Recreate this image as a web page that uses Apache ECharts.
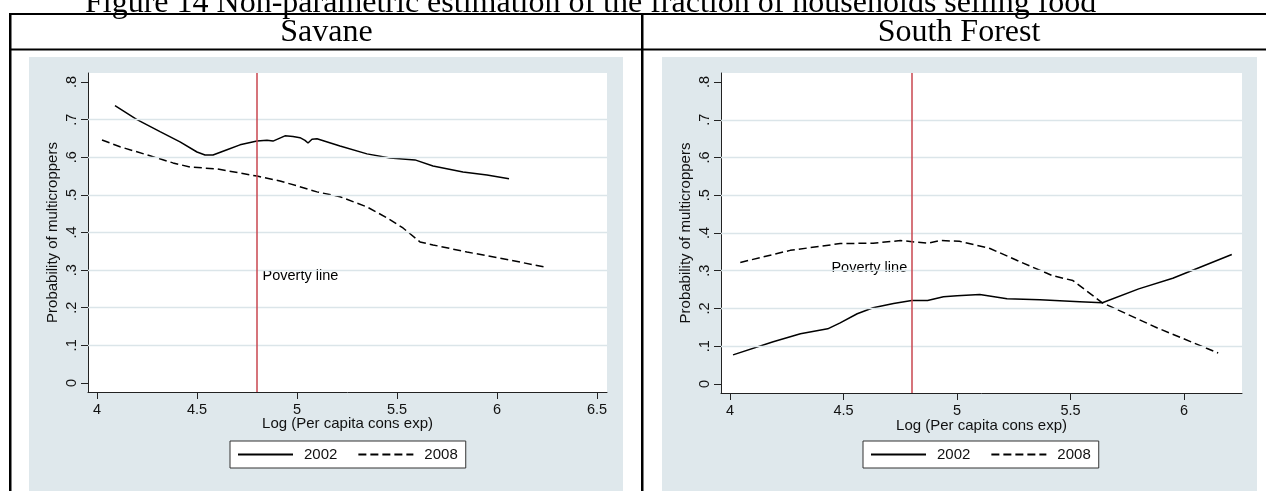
<!DOCTYPE html>
<html>
<head>
<meta charset="utf-8">
<script src="https://cdn.jsdelivr.net/npm/echarts@6/dist/echarts.min.js"></script>
<style>
html,body{margin:0;padding:0;background:#fff;}
#c{width:1266px;height:491px;}
</style>
</head>
<body>
<div id="c"></div>
<script>
// ---- data ----
const titleText = 'Figure 14 Non-parametric estimation of the fraction of households selling food';
const panelNames = ['Savane', 'South Forest'];
const seriesNames = ['2002', '2008'];
const xAxisTitle = 'Log (Per capita cons exp)';
const yAxisTitle = 'Probability of multicroppers';
const povertyLine = 4.8;
const povertyLabel = 'Poverty line';
const povertyLabelY = [0.285, 0.306];

const yTicks = [0, 0.1, 0.2, 0.3, 0.4, 0.5, 0.6, 0.7, 0.8];
const xTicksSavane = [4, 4.5, 5, 5.5, 6, 6.5];
const xTicksForest = [4, 4.5, 5, 5.5, 6];

const savX2002 = [4.09, 4.2, 4.315, 4.415, 4.5, 4.54, 4.58, 4.65, 4.715, 4.8, 4.85, 4.88, 4.94, 4.98, 5.015, 5.04, 5.055, 5.075, 5.1, 5.215, 5.35, 5.465, 5.59, 5.68, 5.83, 5.95, 6.06];
const savY2002 = [0.737, 0.700, 0.668, 0.641, 0.614, 0.606, 0.606, 0.620, 0.633, 0.643, 0.645, 0.643, 0.657, 0.655, 0.652, 0.645, 0.638, 0.648, 0.649, 0.630, 0.609, 0.598, 0.593, 0.577, 0.561, 0.553, 0.543];
const savX2008 = [4.025, 4.115, 4.265, 4.38, 4.465, 4.6, 4.715, 4.8, 4.915, 5.0, 5.1, 5.215, 5.35, 5.45, 5.53, 5.615, 5.68, 5.85, 6.015, 6.24];
const savY2008 = [0.646, 0.628, 0.604, 0.585, 0.574, 0.569, 0.558, 0.550, 0.537, 0.524, 0.508, 0.495, 0.468, 0.439, 0.412, 0.375, 0.367, 0.348, 0.332, 0.308];

const forX2002 = [4.013, 4.19, 4.31, 4.43, 4.485, 4.56, 4.63, 4.72, 4.8, 4.87, 4.94, 5.0, 5.1, 5.22, 5.365, 5.54, 5.64, 5.8, 5.95, 6.21];
const forY2002 = [0.077, 0.112, 0.133, 0.146, 0.162, 0.186, 0.202, 0.213, 0.221, 0.221, 0.231, 0.234, 0.237, 0.226, 0.223, 0.218, 0.215, 0.252, 0.280, 0.343];
const forX2008 = [4.045, 4.265, 4.485, 4.63, 4.75, 4.87, 4.925, 5.01, 5.145, 5.265, 5.42, 5.51, 5.64, 5.88, 6.15];
const forY2008 = [0.322, 0.354, 0.372, 0.373, 0.380, 0.373, 0.380, 0.378, 0.359, 0.327, 0.287, 0.274, 0.215, 0.149, 0.082];

// ---- styles ----
const SANS = '"Liberation Sans", Arial, sans-serif';
const SERIF = '"Liberation Serif", "Times New Roman", serif';
const BG = '#dfe8ec';
const GRID = '#dbe5e9';
const RED = '#c8464f';
const INK = '#111';

const zip = (xs, ys) => xs.map((x, i) => [x, ys[i]]);
const gridVals = yTicks.slice(1, -1);

function xAxisFor(idx, ticks, min, max, gap) {
  return {
    type: 'value', gridIndex: idx, min: min, max: max,
    name: xAxisTitle, nameLocation: 'middle', nameGap: gap, nameMoveOverlap: false,
    nameTextStyle: {fontFamily: SANS, fontSize: 15, color: INK, verticalAlign: 'top'},
    axisLine: {show: true, onZero: false, lineStyle: {color: '#222', width: 1}},
    axisTick: {show: true, length: 7, customValues: ticks, lineStyle: {color: '#222'}},
    axisLabel: {show: true, customValues: ticks, margin: 10, fontFamily: SANS, fontSize: 14.5, color: INK,
      formatter: v => String(v)},
    splitLine: {show: false}
  };
}
function yAxisFor(idx) {
  return {
    type: 'value', gridIndex: idx, min: -0.024, max: 0.824,
    name: yAxisTitle, nameLocation: 'middle', nameGap: 28, nameRotate: 90,
    nameTextStyle: {fontFamily: SANS, fontSize: 15, color: INK},
    axisLine: {show: true, onZero: false, lineStyle: {color: '#222', width: 1}},
    axisTick: {show: true, length: 7, customValues: yTicks, lineStyle: {color: '#222'}},
    axisLabel: {show: true, customValues: yTicks, rotate: 90, margin: 9, fontFamily: SANS, fontSize: 14.5, color: INK,
      formatter: v => (Math.abs(v) < 1e-9 ? '0' : '.' + Math.round(v * 10))},
    splitLine: {show: false}
  };
}
function helperSeries(idx) {
  return {
    type: 'line', xAxisIndex: idx, yAxisIndex: idx, data: [], z: 1, silent: true,
    markLine: {
      silent: true, symbol: 'none', animation: false,
      label: {show: false},
      data: gridVals.map(v => ({yAxis: v, lineStyle: {color: GRID, width: 1.4, type: 'solid'}}))
        .concat([{xAxis: povertyLine, lineStyle: {color: RED, width: 1.5, type: 'solid'}}])
    }
  };
}
function curve(idx, name, pts, dashed) {
  return {
    type: 'line', name: name, xAxisIndex: idx, yAxisIndex: idx, data: pts, z: 3,
    symbol: 'none', smooth: false, silent: true,
    lineStyle: {color: '#000', width: 1.5, type: dashed ? [8, 4] : 'solid'},
    itemStyle: {color: '#000'}
  };
}
function povLabel(idx, y, side) {
  return {
    type: 'scatter', xAxisIndex: idx, yAxisIndex: idx, z: 4, silent: true,
    data: [[povertyLine, y]], symbolSize: 1, itemStyle: {color: 'rgba(0,0,0,0)'},
    label: {show: true, position: side, distance: side === 'right' ? 5 : 4, formatter: povertyLabel,
      fontFamily: SANS, fontSize: 14.5, color: '#000', textBorderWidth: 0, opacity: 1}
  };
}
function legendFor(left) {
  return {
    left: left, top: 441, orient: 'horizontal', selectedMode: false,
    data: seriesNames, itemWidth: 55, itemHeight: 14, itemGap: 20,
    itemStyle: {opacity: 0},
    padding: [6, 8, 6, 7], backgroundColor: '#fff', borderColor: '#333', borderWidth: 1, borderRadius: 0,
    textStyle: {fontFamily: SANS, fontSize: 15, color: INK, padding: [0, 0, 0, 6]}
  };
}

const chart = echarts.init(document.getElementById('c'), null, {renderer: 'canvas'});
chart.setOption({
  animation: false,
  tooltip: {show: false},
  graphic: {elements: [
    {type: 'rect', z: -10, shape: {x: 29, y: 57, width: 594, height: 434}, style: {fill: BG}},
    {type: 'rect', z: -10, shape: {x: 662, y: 57, width: 595, height: 434}, style: {fill: BG}},
    {type: 'rect', z: 100, shape: {x: 9, y: 13, width: 1257, height: 2}, style: {fill: '#000'}},
    {type: 'rect', z: 100, shape: {x: 9, y: 48.5, width: 1257, height: 2}, style: {fill: '#000'}},
    {type: 'rect', z: 100, shape: {x: 9, y: 13, width: 2.5, height: 478}, style: {fill: '#000'}},
    {type: 'rect', z: 100, shape: {x: 641, y: 13, width: 2.5, height: 478}, style: {fill: '#000'}},
    {type: 'text', z: 100, style: {x: 85, y: 3.5, text: titleText, font: 'normal 32px ' + SERIF, fill: '#000', align: 'left', verticalAlign: 'middle'}},
    {type: 'text', z: 100, style: {x: 326.5, y: 33, text: panelNames[0], font: 'normal 32px ' + SERIF, fill: '#000', align: 'center', verticalAlign: 'middle'}},
    {type: 'text', z: 100, style: {x: 959, y: 33, text: panelNames[1], font: 'normal 32px ' + SERIF, fill: '#000', align: 'center', verticalAlign: 'middle'}}
  ]},
  grid: [
    {left: 88, top: 73, width: 519, height: 319, show: true, backgroundColor: '#fff', borderWidth: 0, containLabel: false},
    {left: 721, top: 73, width: 521, height: 320, show: true, backgroundColor: '#fff', borderWidth: 0, containLabel: false}
  ],
  xAxis: [
    xAxisFor(0, xTicksSavane, 3.955, 6.55, 24),
    xAxisFor(1, xTicksForest, 3.96, 6.255, 25)
  ],
  yAxis: [yAxisFor(0), yAxisFor(1)],
  legend: [legendFor(230), legendFor(863)],
  series: [
    helperSeries(0),
    curve(0, seriesNames[0], zip(savX2002, savY2002), false),
    curve(0, seriesNames[1], zip(savX2008, savY2008), true),
    povLabel(0, povertyLabelY[0], 'right'),
    helperSeries(1),
    curve(1, seriesNames[0], zip(forX2002, forY2002), false),
    curve(1, seriesNames[1], zip(forX2008, forY2008), true),
    povLabel(1, povertyLabelY[1], 'left')
  ]
});
</script>
</body>
</html>
